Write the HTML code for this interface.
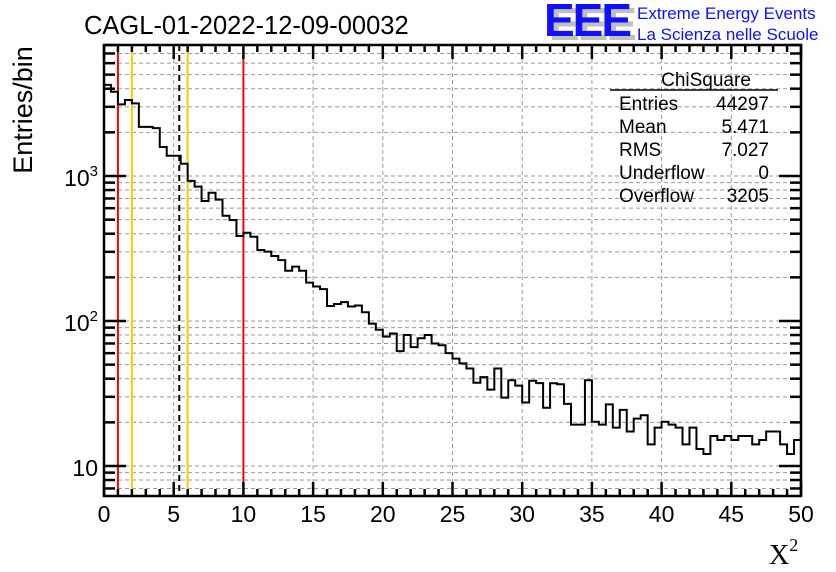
<!DOCTYPE html>
<html><head><meta charset="utf-8"><style>
html,body{margin:0;padding:0;background:#fff;}
svg{display:block;font-family:"Liberation Sans",sans-serif;}
</style></head><body>
<svg id="c" width="836" height="572" viewBox="0 0 836 572">
<rect width="836" height="572" fill="#fff"/>
<text x="84" y="34" font-size="25.5">CAGL-01-2022-12-09-00032</text>
<g>
<text x="549" y="40" font-size="46" font-weight="bold" fill="#c0c0c0" letter-spacing="-2" textLength="86" lengthAdjust="spacingAndGlyphs">EEE</text>
<text x="544" y="36" font-size="46" font-weight="bold" fill="#1010ff" letter-spacing="-2" textLength="86" lengthAdjust="spacingAndGlyphs">EEE</text>
<text x="637" y="19" font-size="17" fill="#1010ff">Extreme Energy Events</text>
<text x="637" y="40" font-size="17" fill="#1010ff">La Scienza nelle Scuole</text>
</g>
<g id="grid"></g>
<g id="vlines"></g>
<path id="hist" fill="none" stroke="#000" stroke-width="2"/>
<g id="axes"></g>
<g font-size="19">
<text x="706" y="86" text-anchor="middle">ChiSquare</text>
<line x1="610" y1="90" x2="778" y2="90" stroke="#000" stroke-width="1.5"/>
<text x="619" y="110">Entries</text><text x="769" y="110" text-anchor="end">44297</text>
<text x="619" y="133">Mean</text><text x="769" y="133" text-anchor="end">5.471</text>
<text x="619" y="156">RMS</text><text x="769" y="156" text-anchor="end">7.027</text>
<text x="619" y="179">Underflow</text><text x="769" y="179" text-anchor="end">0</text>
<text x="619" y="202">Overflow</text><text x="769" y="202" text-anchor="end">3205</text>
</g>
<text transform="translate(32,110) rotate(-90)" text-anchor="middle" font-size="27">Entries/bin</text>
<text x="769" y="564" font-size="28" font-family="Liberation Serif,serif">X<tspan font-size="18" dy="-13">2</tspan></text>
</svg>
<script>
const values=[4250,3810,3120,3340,3170,2180,2180,2140,1585,1380,1380,1215,925,845,673,767,687,532,497,386,406,381,309,301,281,263,222,237,222,184,173,166,127,131,135,126,128,115,96,87,78,82,62,80,66,76,80,70,68,60,55,51,47,37.5,41,33.6,47,29.6,39,35.8,27.4,38.7,37.3,25.2,37.2,36.6,26.8,19.3,19.3,39,20.2,19.3,26.6,18.4,24.4,17.3,21.2,22.4,14.1,18.4,20.2,19.3,18.4,14.1,18.4,13.1,12.1,16.1,15.1,16.1,15.1,16.1,16.1,14.1,15.1,17.3,17.3,14.1,12.1,15.1];
const xTicks=[0,5,10,15,20,25,30,35,40,45,50];
const yDecades=[10,100,1000];
const redLines=[1,10];
const yellowLines=[2,6];
const meanLine=[5.4];
const binWidth=0.5;
const L=104,R=801,T=45,B=496,X0=0,X1=50;
const X=v=>L+(v-X0)/(X1-X0)*(R-L);
const Y=v=>176-(Math.log10(v)-3)*145;
const NS="http://www.w3.org/2000/svg";
function mk(p,tag,a){const e=document.createElementNS(NS,tag);for(const k in a)e.setAttribute(k,a[k]);p.appendChild(e);return e;}
const grid=document.getElementById('grid'),axes=document.getElementById('axes'),vl=document.getElementById('vlines');
xTicks.forEach(t=>{if(t>X0&&t<X1){const e=mk(grid,'line',{x1:X(t),x2:X(t),y1:T,y2:B,stroke:'#999','stroke-dasharray':'4,3','stroke-width':1});

}});
const yLo=10**(3-(B-176)/145), yHi=10**(3+(176-T)/145);
for(let d=1;d<=10000;d*=10){for(let m=1;m<10;m++){const v=d*m;if(v>yLo&&v<yHi){const y=Y(v);
const g=mk(grid,'line',{x1:L,x2:R,y1:y,y2:y,stroke:'#999','stroke-dasharray':'4,3','stroke-width':1});


const major=(m===1);const len=major?22:11;
mk(axes,'line',{x1:L,x2:L+len,y1:y,y2:y,stroke:'#000','stroke-width':2.5});
mk(axes,'line',{x1:R,x2:R-len,y1:y,y2:y,stroke:'#000','stroke-width':2.5});}}}
redLines.forEach(v=>{const e=mk(vl,'line',{x1:X(v),x2:X(v),y1:T,y2:B,stroke:'#ff0000','stroke-width':2});

});
yellowLines.forEach(v=>{const e=mk(vl,'line',{x1:X(v),x2:X(v),y1:T,y2:B,stroke:'#ffcc00','stroke-width':2});

});
meanLine.forEach(v=>{const e=mk(vl,'line',{x1:X(v),x2:X(v),y1:T,y2:B,stroke:'#000','stroke-width':2,'stroke-dasharray':'6,4'});

});
let d='';values.forEach((v,i)=>{const x0=X(X0+i*binWidth),x1=X(X0+(i+1)*binWidth),y=Math.max(T,Math.min(B,Y(v)));d+=(i===0?'M'+x0+','+y:'L'+x0+','+y)+'L'+x1+','+y;});
document.getElementById('hist').setAttribute('d',d);
const f=mk(axes,'rect',{x:L,y:T,width:R-L,height:B-T,fill:'none',stroke:'#000','stroke-width':2.5});


for(let t=X0;t<=X1;t+=1){const major=(t%5===0);const len=major?14:7;
mk(axes,'line',{x1:X(t),x2:X(t),y1:B,y2:B-len,stroke:'#000','stroke-width':2.5});
mk(axes,'line',{x1:X(t),x2:X(t),y1:T,y2:T+len,stroke:'#000','stroke-width':2.5});}
xTicks.forEach(t=>{const e=mk(axes,'text',{x:X(t),y:522,'text-anchor':'middle','font-size':23});e.textContent=t;

});
yDecades.forEach(v=>{const e=mk(axes,'text',{x:98,y:Y(v)+10,'text-anchor':'end','font-size':23});
const exp=Math.round(Math.log10(v));
if(exp===1){e.textContent='10';}else{e.textContent='10';const s=mk(e,'tspan',{'font-size':15,dy:-10});s.textContent=exp;}

});
</script>
</body></html>
